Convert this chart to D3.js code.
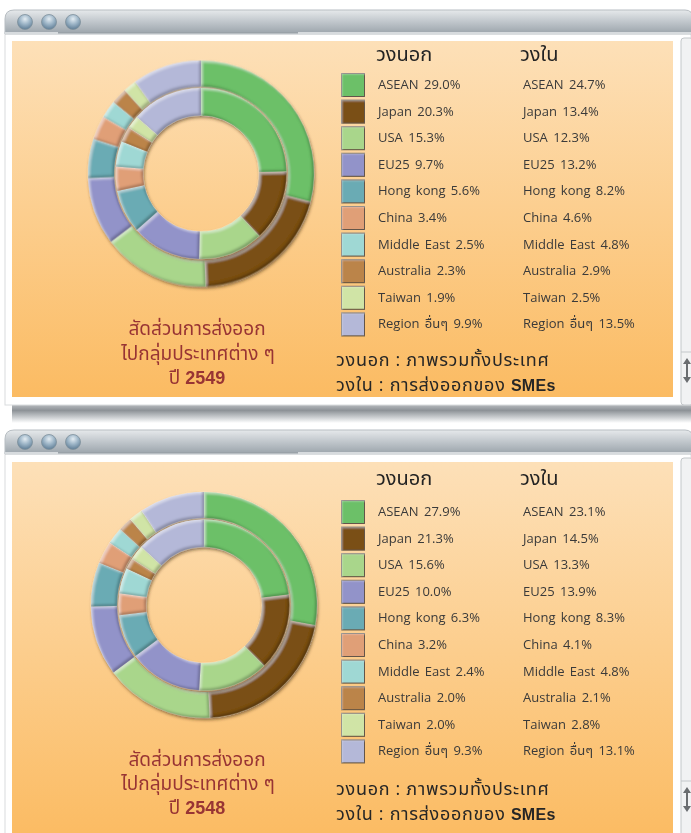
<!DOCTYPE html>
<html><head><meta charset="utf-8">
<script src="https://cdn.jsdelivr.net/npm/d3@7"></script>
<style>
html,body{margin:0;padding:0;background:#fff;overflow:hidden;}
svg{display:block;}
text{font-family:"Open Sans","Noto Sans Thai","Noto Sans",sans-serif;}
</style></head><body>
<svg id="c" width="691" height="833"></svg>
<script>
// ---------- DATA ----------
const categories = ["ASEAN","Japan","USA","EU25","Hong kong","China","Middle East","Australia","Taiwan","Region อื่นๆ"];
const colors = ["#6cc068","#7a5019","#a9d68b","#9293c9","#6aabb4","#e09f77","#9fd8d4","#bb8449","#d0e4a6","#b4b8d8"];
const years = ["2549","2548"];
const outer2549 = [29.0,20.3,15.3,9.7,5.6,3.4,2.5,2.3,1.9,9.9];
const inner2549 = [24.7,13.4,12.3,13.2,8.2,4.6,4.8,2.9,2.5,13.5];
const outer2548 = [27.9,21.3,15.6,10.0,6.3,3.2,2.4,2.0,2.0,9.3];
const inner2548 = [23.1,14.5,13.3,13.9,8.3,4.1,4.8,2.1,2.8,13.1];
const headerOuter = "วงนอก";
const headerInner = "วงใน";
const titleLines = ["สัดส่วนการส่งออก","ไปกลุ่มประเทศต่าง ๆ","ปี "];
const footer1 = "วงนอก : ภาพรวมทั้งประเทศ";
const footer2a = "วงใน : การส่งออกของ ";
const footer2b = "SMEs";

// ---------- LAYOUT ----------
const panels = [
  {year:years[0], outer:outer2549, inner:inner2549, winTop:10, winBottom:405, panelTop:41, panelBottom:397,
   cx:201, cy:173.5, headerY:61, rowTop:73, footerY:[366,391], titleY:[335,360,384], scrollIcon:358},
  {year:years[1], outer:outer2548, inner:inner2548, winTop:430, winBottom:840, panelTop:462, panelBottom:840,
   cx:204, cy:605, headerY:485, rowTop:500, footerY:[795,820], titleY:[766,790,814], scrollIcon:787}
];
const W = 691;
const svg = d3.select("#c");
const defs = svg.append("defs");

// gradients
const tb = defs.append("linearGradient").attr("id","titlebar").attr("x1",0).attr("y1",0).attr("x2",0).attr("y2",1);
tb.append("stop").attr("offset","0").attr("stop-color","#e6e9eb");
tb.append("stop").attr("offset","0.45").attr("stop-color","#c3c9ce");
tb.append("stop").attr("offset","1").attr("stop-color","#9aa3aa");
const og = defs.append("linearGradient").attr("id","orange").attr("x1",0).attr("y1",0).attr("x2",0).attr("y2",1);
og.append("stop").attr("offset","0").attr("stop-color","#fde0b8");
og.append("stop").attr("offset","1").attr("stop-color","#fbbb62");
const sh = defs.append("linearGradient").attr("id","shadowband").attr("x1",0).attr("y1",0).attr("x2",0).attr("y2",1);
sh.append("stop").attr("offset","0").attr("stop-color","#b4b8bc");
sh.append("stop").attr("offset","0.3").attr("stop-color","#8d9297");
sh.append("stop").attr("offset","0.7").attr("stop-color","#cdd0d3");
sh.append("stop").attr("offset","1").attr("stop-color","#ffffff");
const bt = defs.append("radialGradient").attr("id","btn").attr("cx","0.5").attr("cy","0.3").attr("r","0.7");
bt.append("stop").attr("offset","0").attr("stop-color","#e3ecf2");
bt.append("stop").attr("offset","0.5").attr("stop-color","#9db5c7");
bt.append("stop").attr("offset","1").attr("stop-color","#5f7d95");

// bevel filter for slices
const bf = defs.append("filter").attr("id","bevel").attr("x","-20%").attr("y","-20%").attr("width","140%").attr("height","140%");
bf.append("feGaussianBlur").attr("in","SourceAlpha").attr("stdDeviation",1.3).attr("result","b");
bf.append("feOffset").attr("in","b").attr("dx",-2).attr("dy",-2.2).attr("result","bUL");
bf.append("feComposite").attr("in","SourceAlpha").attr("in2","bUL").attr("operator","arithmetic")
  .attr("k1",0).attr("k2",1).attr("k3",-1).attr("k4",0).attr("result","shMask");
bf.append("feFlood").attr("flood-color","#000").attr("flood-opacity",0.45).attr("result","shCol");
bf.append("feComposite").attr("in","shCol").attr("in2","shMask").attr("operator","in").attr("result","shade");
bf.append("feOffset").attr("in","b").attr("dx",1.8).attr("dy",2).attr("result","bDR");
bf.append("feComposite").attr("in","SourceAlpha").attr("in2","bDR").attr("operator","arithmetic")
  .attr("k1",0).attr("k2",1).attr("k3",-1).attr("k4",0).attr("result","hlMask");
bf.append("feFlood").attr("flood-color","#fff").attr("flood-opacity",0.4).attr("result","hlCol");
bf.append("feComposite").attr("in","hlCol").attr("in2","hlMask").attr("operator","in").attr("result","hl");
const bm = bf.append("feMerge");
bm.append("feMergeNode").attr("in","SourceGraphic");
bm.append("feMergeNode").attr("in","hl");
bm.append("feMergeNode").attr("in","shade");

const ds = defs.append("filter").attr("id","drop").attr("x","-20%").attr("y","-20%").attr("width","140%").attr("height","140%");
ds.append("feDropShadow").attr("dx",1).attr("dy",2).attr("stdDeviation",1.4).attr("flood-color","#3a2a10").attr("flood-opacity",0.55);

const swf = defs.append("filter").attr("id","swbevel").attr("x","-20%").attr("y","-20%").attr("width","140%").attr("height","140%");
swf.append("feGaussianBlur").attr("in","SourceAlpha").attr("stdDeviation",0.8).attr("result","b");
swf.append("feOffset").attr("in","b").attr("dx",1.2).attr("dy",1.2).attr("result","bDR");
swf.append("feComposite").attr("in","SourceAlpha").attr("in2","bDR").attr("operator","arithmetic")
  .attr("k1",0).attr("k2",1).attr("k3",-1).attr("k4",0).attr("result","hlMask");
swf.append("feFlood").attr("flood-color","#fff").attr("flood-opacity",0.35).attr("result","hlCol");
swf.append("feComposite").attr("in","hlCol").attr("in2","hlMask").attr("operator","in").attr("result","hl");
const sm = swf.append("feMerge");
sm.append("feMergeNode").attr("in","SourceGraphic");
sm.append("feMergeNode").attr("in","hl");

// shadow band under first window
svg.append("rect").attr("x",12).attr("y",405).attr("width",W-12).attr("height",18).attr("fill","url(#shadowband)");

const pie = d3.pie().sort(null).value(d => d);
const arcOuter = d3.arc().innerRadius(87).outerRadius(113);
const arcInner = d3.arc().innerRadius(58).outerRadius(85.5);

panels.forEach(p => {
  const g = svg.append("g");
  // window body
  g.append("rect").attr("x",5).attr("y",p.winTop+22).attr("width",W-5).attr("height",p.winBottom-p.winTop-22)
    .attr("fill","#fff").attr("stroke","#d9dcde").attr("stroke-width",1);
  // title bar
  const t = p.winTop, r = 9;
  g.append("path")
    .attr("d",`M5,${t+24} L5,${t+r} Q5,${t} ${5+r},${t} L${W-6},${t} Q${W+2},${t} ${W+2},${t+r} L${W+2},${t+24} Z`)
    .attr("fill","url(#titlebar)").attr("stroke","#b7bdc2").attr("stroke-width",1);
  g.append("rect").attr("x",5).attr("y",t+22).attr("width",W-5).attr("height",2).attr("fill","#d7dbde");
  g.append("rect").attr("x",58).attr("y",t+22).attr("width",240).attr("height",1.5).attr("fill","#9aa2a8");
  [25,49,73].forEach(x => {
    g.append("circle").attr("cx",x).attr("cy",t+12).attr("r",7.5).attr("fill","url(#btn)").attr("stroke","#7f909c").attr("stroke-width",0.8);
  });
  // scrollbar
  g.append("rect").attr("x",681).attr("y",t+28).attr("width",12).attr("height",p.winBottom-t-28)
    .attr("fill","#f1f2f3").attr("stroke","#c3c7ca").attr("stroke-width",1).attr("rx",3);
  const si = p.scrollIcon;
  g.append("line").attr("x1",681).attr("x2",691).attr("y1",si-6).attr("y2",si-6).attr("stroke","#c3c7ca");
  g.append("path").attr("d",`M687,${si} L683,${si+6} L691,${si+6} Z M687,${si+25} L683,${si+19} L691,${si+19} Z`).attr("fill","#6a6d70");
  g.append("rect").attr("x",686).attr("y",si+5).attr("width",2).attr("height",15).attr("fill","#6a6d70");
  // orange panel
  g.append("rect").attr("x",12).attr("y",p.panelTop).attr("width",661).attr("height",p.panelBottom-p.panelTop)
    .attr("fill","url(#orange)");

  // donut
  const dg = g.append("g").attr("transform",`translate(${p.cx},${p.cy})`);
  const og2 = dg.append("g").attr("filter","url(#drop)");
  og2.selectAll("path").data(pie(p.outer)).join("path")
    .attr("d",arcOuter).attr("fill",(d,i)=>colors[i]).attr("filter","url(#bevel)")
    .attr("stroke","rgba(255,255,255,0.35)").attr("stroke-width",0.6);
  const ig = dg.append("g").attr("filter","url(#drop)");
  ig.selectAll("path").data(pie(p.inner)).join("path")
    .attr("d",arcInner).attr("fill",(d,i)=>colors[i]).attr("filter","url(#bevel)")
    .attr("stroke","rgba(255,255,255,0.35)").attr("stroke-width",0.6);

  // title
  const tt = g.append("g").attr("fill","#983434").attr("text-anchor","middle").attr("font-size",19);
  tt.append("text").attr("x",197).attr("y",p.titleY[0]).text(titleLines[0]);
  tt.append("text").attr("x",198).attr("y",p.titleY[1]).text(titleLines[1]);
  const t3 = tt.append("text").attr("x",197).attr("y",p.titleY[2]);
  t3.append("tspan").text(titleLines[2]);
  t3.append("tspan").attr("font-weight","bold").attr("font-family","Arial, 'Liberation Sans', sans-serif").attr("font-size",18).text(p.year);

  // headers
  g.append("text").attr("x",376).attr("y",p.headerY).attr("font-size",20).attr("fill","#232323").text(headerOuter);
  g.append("text").attr("x",520).attr("y",p.headerY).attr("font-size",20).attr("fill","#232323").text(headerInner);

  // legend
  const step = 26.6;
  const rows = g.append("g");
  categories.forEach((c,i) => {
    const y = p.rowTop + i*step;
    rows.append("rect").attr("x",341.5).attr("y",y+0.5).attr("width",23).attr("height",23)
      .attr("fill",colors[i]).attr("stroke","#5a4a3a").attr("stroke-width",1).attr("filter","url(#swbevel)");
    rows.append("text").attr("x",378).attr("y",y+16).attr("font-size",13).attr("fill","#3a3a3a")
      .attr("word-spacing",2).text(`${c} ${p.outer[i].toFixed(1)}%`);
    rows.append("text").attr("x",523).attr("y",y+16).attr("font-size",13).attr("fill","#3a3a3a")
      .attr("word-spacing",2).text(`${c} ${p.inner[i].toFixed(1)}%`);
  });

  // footer
  g.append("text").attr("x",336).attr("y",p.footerY[0]).attr("font-size",18).attr("letter-spacing",0.7)
    .attr("fill","#262626").text(footer1);
  const f2 = g.append("text").attr("x",336).attr("y",p.footerY[1]).attr("font-size",18).attr("letter-spacing",0.7)
    .attr("fill","#262626");
  f2.append("tspan").text(footer2a);
  f2.append("tspan").attr("font-weight","bold").attr("font-size",16).attr("letter-spacing",0.3)
    .attr("font-family","Arial, 'Liberation Sans', sans-serif").text(footer2b);
});
</script>
</body></html>
